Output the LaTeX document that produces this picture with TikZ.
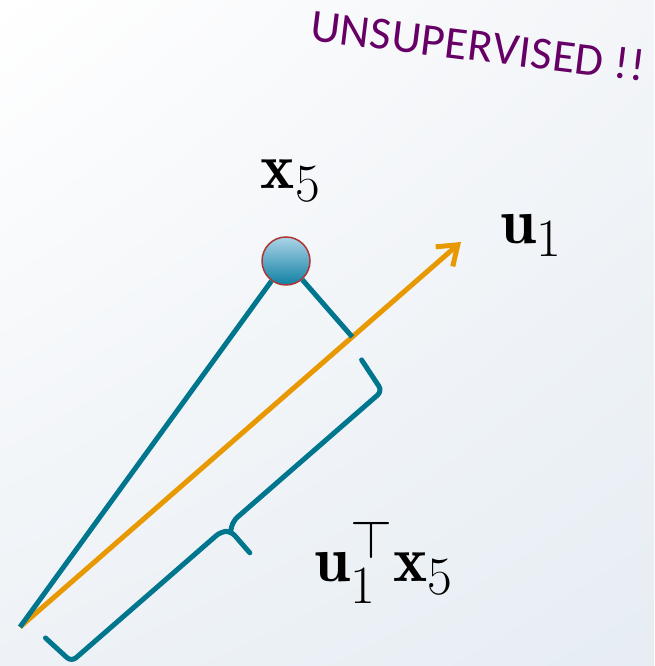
\documentclass[tikz,border=0pt]{standalone}
\usepackage{amsmath}
\usepackage{graphicx}
\usepackage{fontspec}
\newfontfamily\notefont[LetterSpace=1]{Carlito}
\usetikzlibrary{
  calc,
  positioning,
  arrows.meta,
  shadings
}
\definecolor{vecteal}{RGB}{0,118,142}
\definecolor{uorange}{RGB}{232,152,0}
\definecolor{notepurple}{RGB}{102,0,102}
\definecolor{ptred}{RGB}{176,52,52}
\definecolor{ptlight}{RGB}{172,212,232}
\definecolor{ptdark}{RGB}{16,128,164}
\definecolor{bgtr}{RGB}{243,245,248}
\definecolor{bgbl}{RGB}{238,242,246}
\definecolor{bgbr}{RGB}{230,237,243}
\newcommand{\bigsym}[1]{\scalebox{2.6}{\Huge$#1$}}

\begin{document}
\begin{tikzpicture}[>=Latex, x=1pt, y=1pt]
  \tikzset{
    vecline/.style={draw=vecteal, line width=5pt},
    uarrow/.style={
      draw=uorange, line width=5pt,
      -{Straight Barb[length=18pt,width=26pt]}
    },
    datapoint/.style={
      circle, minimum size=48pt, inner sep=0pt,
      draw=ptred, line width=1.5pt,
      top color=ptlight, bottom color=ptdark
    },
    bigmath/.style={inner sep=0pt},
    % every node/.style={draw=red}
  }
% background
\shade[upper left=white, upper right=bgtr, lower left=bgbl, lower right=bgbr]
  (0,0) rectangle (654,666);
\useasboundingbox (0,0) rectangle (654,666);

\coordinate (o) at (20,39);
\coordinate (u1tip) at (461,424);
\node[datapoint] (x5) at (286,405) {};
\coordinate (foot) at ($(o)!(x5)!(u1tip)$);

\draw[uarrow] (o) -- (u1tip);
\draw[vecline] (o) -- (x5);
\draw[vecline] (x5) -- (foot);

% brace under the projection
\begin{scope}[shift={(o)}, rotate=41.06, rounded corners=6pt]
  \draw[vecline, line cap=round] (12,-25) -- (16,-60) -- (214,-60) -- (222,-66) -- (222,-95);
  \draw[vecline, line cap=round] (222,-66) -- (230,-60) -- (428,-60) -- (433,-23);
\end{scope}

\node[bigmath, above=35pt of x5, xshift=5pt] (x5lbl) {\bigsym{\mathbf{x}_5}};
\node[bigmath, anchor=base west] (u1lbl) at ($(u1tip)+(39,-2)$) {\bigsym{\mathbf{u}_1}};
\node[bigmath, anchor=base west] (projlbl) at (314,84) {\bigsym{\mathbf{u}_1^{\top}\mathbf{x}_5}};

\node[anchor=base, rotate=-7, text=notepurple, inner sep=0pt,
  font=\notefont\fontsize{46}{55}\selectfont] (unsup) at (476,605) {UNSUPERVISED !!};

\end{tikzpicture}
\end{document}
